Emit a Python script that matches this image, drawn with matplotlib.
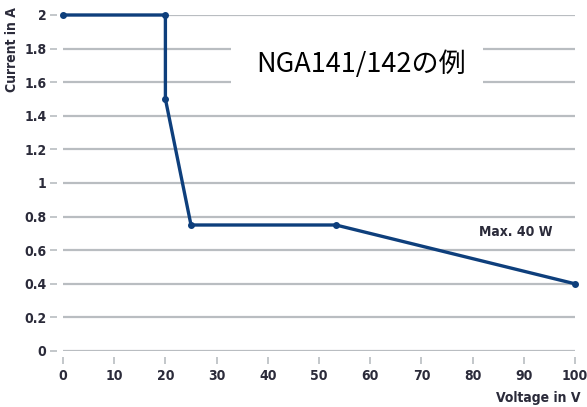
import matplotlib
matplotlib.use("Agg")
import matplotlib.pyplot as plt
from matplotlib.patches import Rectangle

# Kennlinie NGA141/142: Spannung (V) / Strom (A)
spannung = [0, 20, 20, 25, 53.3, 100]
strom = [2, 2, 1.5, 0.75, 0.75, 0.4]

xticks = [0, 10, 20, 30, 40, 50, 60, 70, 80, 90, 100]
yticks = [0, 0.2, 0.4, 0.6, 0.8, 1, 1.2, 1.4, 1.6, 1.8, 2]
ytick_labels = ["0", "0.2", "0.4", "0.6", "0.8", "1", "1.2", "1.4", "1.6", "1.8", "2"]

titel = "NGA141/142の例"
notiz = "Max. 40 W"

schrift = ["DejaVu Sans"]
textfarbe = "#2b2b3a"
linienfarbe = "#0e3f7c"
gitterfarbe = "#b9bdc1"

fig = plt.figure(figsize=(5.87, 4.07), dpi=100)
ax = fig.add_axes([63 / 587, 1 - 351 / 407, 512 / 587, 336 / 407])

ax.plot(spannung, strom, color=linienfarbe, lw=2.4, marker="o", ms=4,
        solid_joinstyle="round", zorder=3, clip_on=False)

ax.set_xlim(0, 100)
ax.set_ylim(0, 2)
ax.set_xticks(xticks)
ax.set_yticks(yticks)
ax.set_yticklabels(ytick_labels)
ax.yaxis.grid(True, color=gitterfarbe, lw=1.6)
ax.set_axisbelow(True)
for s in ax.spines.values():
    s.set_visible(False)
ax.spines["left"].set_position(("outward", 4))
ax.spines["bottom"].set_position(("outward", 4))
ax.tick_params(axis="both", colors=gitterfarbe, length=5, width=1.2, labelcolor=textfarbe,
               labelsize=10)
ax.tick_params(axis="y", pad=3)
ax.tick_params(axis="x", pad=4)
for lab in ax.get_xticklabels() + ax.get_yticklabels():
    lab.set_family(schrift)
    lab.set_fontweight("bold")
    lab.set_fontstretch("condensed")

fig.text(12 / 587, 1 - 50 / 407, "Current in A", rotation=90, ha="center", va="center",
         family=schrift, fontweight="bold", fontstretch="condensed", fontsize=10, color=textfarbe)
fig.text(580 / 587, 1 - 398 / 407, "Voltage in V", ha="right", va="center",
         family=schrift, fontweight="bold", fontstretch="condensed", fontsize=10, color=textfarbe)

ax.text(88.5, 0.71, notiz, ha="center", va="center", family=schrift,
        fontweight="bold", fontstretch="condensed", fontsize=10, color=textfarbe)

# weisser Kasten hinter dem Titel
ax.add_patch(Rectangle((32.8, 1.46), 49.2, 0.48, fc="white", ec="none", zorder=2))
ax.text(58.3, 1.71, titel, ha="center", va="center", family=["Noto Sans CJK JP", "DejaVu Sans"],
        fontsize=19.5, color="black", zorder=4)

fig.savefig("out.png", dpi=100)
